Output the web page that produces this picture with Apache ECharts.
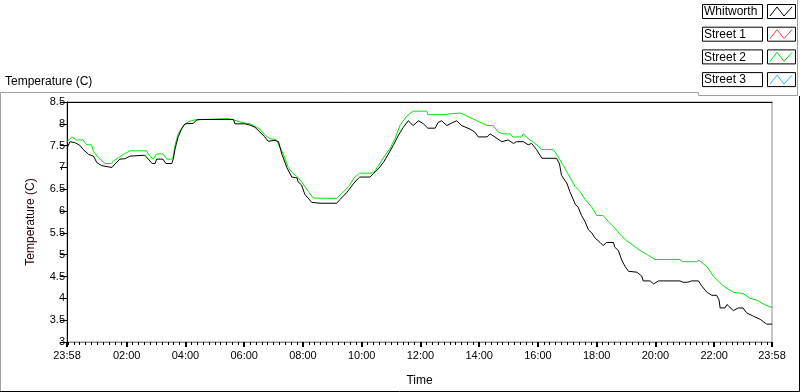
<!DOCTYPE html>
<html>
<head>
<meta charset="utf-8">
<script src="https://cdn.jsdelivr.net/npm/echarts@6/dist/echarts.min.js"></script>
<style>
  html, body { margin: 0; padding: 0; background: #fff; }
  #chart { width: 800px; height: 392px; }
</style>
</head>
<body>
<div id="chart"></div>
<script>
// minutes since 23:58 on the x axis
var majorTicks = [0, 122, 242, 362, 482, 602, 722, 842, 962, 1082, 1202, 1322, 1440];
var tickLabels = ["23:58", "02:00", "04:00", "06:00", "08:00", "10:00", "12:00",
                  "14:00", "16:00", "18:00", "20:00", "22:00", "23:58"];

var seriesNames = ["Whitworth", "Street 1", "Street 2", "Street 3"];
var seriesColors = ["#000000", "#ff4040", "#00e600", "#33b5ff"];

var whitworthTime = [0, 6, 16, 27, 33, 44, 54, 61, 71, 74, 92, 98, 108, 118, 129, 132, 159, 163, 166, 174,
  180, 183, 196, 202, 214, 217, 221, 227, 234, 241, 258, 265, 272, 340, 343, 364, 374, 384, 394, 404,
  411, 425, 432, 439, 449, 459, 470, 472, 479, 486, 500, 517, 551, 558, 571, 588, 598, 619, 626, 636,
  646, 656, 667, 677, 687, 697, 707, 718, 728, 737, 752, 758, 765, 776, 786, 796, 806, 823, 833, 840,
  858, 864, 874, 888, 901, 912, 918, 932, 942, 949, 959, 970, 1000, 1006, 1010, 1021, 1027, 1038, 1044, 1051,
  1058, 1065, 1072, 1078, 1089, 1095, 1102, 1116, 1119, 1126, 1133, 1140, 1147, 1164, 1174, 1177, 1191, 1198, 1208, 1252,
  1258, 1268, 1276, 1290, 1296, 1307, 1317, 1327, 1332, 1334, 1344, 1348, 1361, 1371, 1381, 1388, 1402, 1416, 1429, 1440];
var whitworthTemp = [7.44, 7.59, 7.57, 7.50, 7.41, 7.30, 7.26, 7.11, 7.04, 7.00, 7.00, 7.08, 7.19, 7.20, 7.26, 7.28, 7.28, 7.24, 7.19, 7.09,
  7.09, 7.19, 7.19, 7.09, 7.09, 7.19, 7.44, 7.70, 7.88, 8.00, 8.01, 8.09, 8.10, 8.10, 8.00, 8.00, 7.97, 7.92, 7.81, 7.70,
  7.60, 7.62, 7.59, 7.30, 7.00, 6.78, 6.76, 6.67, 6.60, 6.38, 6.20, 6.18, 6.18, 6.27, 6.42, 6.67, 6.78, 6.78, 6.86, 6.97,
  7.11, 7.30, 7.52, 7.74, 7.92, 8.07, 7.96, 8.07, 8.00, 7.90, 7.90, 8.03, 8.07, 7.96, 8.02, 8.07, 7.96, 7.88, 7.81, 7.70,
  7.70, 7.77, 7.70, 7.59, 7.63, 7.55, 7.59, 7.59, 7.52, 7.55, 7.41, 7.21, 7.21, 7.08, 6.82, 6.64, 6.45, 6.16, 6.09, 5.90,
  5.76, 5.57, 5.50, 5.39, 5.28, 5.21, 5.28, 5.28, 5.17, 5.10, 4.88, 4.73, 4.62, 4.60, 4.51, 4.40, 4.40, 4.33, 4.40, 4.40,
  4.37, 4.37, 4.40, 4.40, 4.29, 4.14, 4.07, 4.07, 3.96, 3.78, 3.78, 3.86, 3.72, 3.78, 3.78, 3.67, 3.59, 3.52, 3.41, 3.41];

var street2Time = [0, 10, 20, 33, 40, 50, 54, 64, 78, 91, 95, 105, 115, 129, 163, 166, 176, 183, 196, 204,
  214, 217, 221, 227, 238, 249, 261, 329, 340, 357, 374, 394, 404, 415, 428, 432, 442, 452, 462, 469,
  479, 493, 503, 551, 561, 575, 588, 598, 626, 636, 646, 660, 670, 680, 694, 707, 735, 737, 768, 803,
  817, 837, 858, 870, 881, 891, 905, 911, 929, 932, 942, 956, 970, 993, 1000, 1014, 1027, 1038, 1048, 1058,
  1072, 1082, 1095, 1106, 1119, 1130, 1143, 1157, 1170, 1187, 1201, 1252, 1256, 1286, 1291, 1307, 1320, 1340, 1361, 1381,
  1395, 1409, 1426, 1440];
var street2Temp = [7.59, 7.70, 7.63, 7.63, 7.52, 7.52, 7.37, 7.22, 7.09, 7.09, 7.15, 7.22, 7.30, 7.38, 7.38, 7.30, 7.19, 7.31, 7.31, 7.19,
  7.19, 7.26, 7.52, 7.77, 7.97, 8.05, 8.09, 8.12, 8.09, 8.03, 8.00, 7.88, 7.74, 7.66, 7.63, 7.60, 7.30, 7.00, 6.86, 6.80,
  6.67, 6.45, 6.30, 6.29, 6.40, 6.56, 6.78, 6.87, 6.87, 7.04, 7.22, 7.44, 7.66, 7.96, 8.18, 8.29, 8.29, 8.21, 8.21, 8.25,
  8.18, 8.07, 7.96, 7.96, 7.81, 7.77, 7.77, 7.70, 7.70, 7.77, 7.66, 7.55, 7.41, 7.41, 7.30, 7.04, 6.78, 6.56, 6.45, 6.27,
  6.09, 5.90, 5.90, 5.76, 5.61, 5.46, 5.32, 5.21, 5.10, 4.99, 4.89, 4.89, 4.84, 4.84, 4.87, 4.73, 4.51, 4.29, 4.14, 4.11,
  4.00, 3.96, 3.85, 3.79];

function pairs(t, v) {
  return t.map(function (x, i) { return [x, v[i]]; });
}
var seriesData = [pairs(whitworthTime, whitworthTemp), [], pairs(street2Time, street2Temp), []];

var minorTicks = [];
for (var m = 2; m < 1440; m += 12) {
  if (majorTicks.indexOf(m) < 0) minorTicks.push(m);
}

var font = "Liberation Sans";

// LabVIEW style legend boxes at the top right
var legendItems = [];
seriesNames.forEach(function (name, i) {
  var y = 4 + i * 22.7;
  legendItems.push({
    type: "rect", shape: { x: 702.5, y: y + 0.5, width: 60, height: 14 },
    style: { fill: "#fff", stroke: "#000", lineWidth: 1 }
  });
  legendItems.push({
    type: "text", x: 704, y: y + 8,
    style: { text: name, font: "12px " + font, fill: "#000", verticalAlign: "middle" }
  });
  legendItems.push({
    type: "rect", shape: { x: 767.5, y: y + 0.5, width: 28, height: 14 },
    style: { fill: "#fff", stroke: "#000", lineWidth: 1 }
  });
  legendItems.push({
    type: "polyline",
    shape: { points: [[770, y + 12], [777, y + 3], [784, y + 12], [792, y + 3]] },
    style: { stroke: seriesColors[i], lineWidth: 1, fill: null }
  });
});

var myChart = echarts.init(document.getElementById("chart"));

var option = {
  animation: false,
  backgroundColor: "#fff",
  textStyle: { fontFamily: font },
  grid: {
    left: 67, top: 102, right: 28, bottom: 39,
    show: true, borderColor: "#8c8c8c", borderWidth: 1, backgroundColor: "#fff"
  },
  graphic: [
    // outer frame
    { type: "polyline", shape: { points: [[0.5, 391], [0.5, 92.5], [698.5, 92.5], [698.5, 95.5], [797.5, 95.5], [797.5, 0]] },
      style: { stroke: "#a0a0a0", lineWidth: 1, fill: null } },
    { type: "polyline", shape: { points: [[0, 391.5], [799.5, 391.5], [799.5, 96]] },
      style: { stroke: "#000", lineWidth: 1, fill: null } },
    { type: "text", x: 5, y: 82,
      style: { text: "Temperature (C)", font: "12px " + font, fill: "#000", verticalAlign: "middle" } }
  ].concat(legendItems),
  xAxis: [
    {
      type: "value", min: 0, max: 1440, position: "bottom",
      name: "Time", nameLocation: "middle", nameGap: 33,
      nameTextStyle: { color: "#000", fontSize: 12 },
      axisLine: { onZero: false, lineStyle: { color: "#8c8c8c" } },
      axisTick: { customValues: majorTicks, length: 5, lineStyle: { color: "#000", width: 2 } },
      axisLabel: {
        customValues: majorTicks, color: "#000", fontSize: 11, margin: 8,
        formatter: function (val) {
          var i = majorTicks.indexOf(Math.round(val));
          return i >= 0 ? tickLabels[i] : "";
        }
      },
      splitLine: { show: false }
    },
    {
      type: "value", min: 0, max: 1440, position: "bottom",
      axisLine: { show: false, onZero: false },
      axisTick: { customValues: minorTicks, length: 3, lineStyle: { color: "#000" } },
      axisLabel: { show: false },
      splitLine: { show: false }
    },
    {
      type: "value", min: 0, max: 1440, position: "top",
      axisLine: { show: true, onZero: false, lineStyle: { color: "#000" } },
      axisTick: { show: false }, axisLabel: { show: false }, splitLine: { show: false }
    }
  ],
  yAxis: [
    {
      type: "value", min: 3, max: 8.5, interval: 0.5, position: "left",
      name: "Temperature (C)", nameLocation: "middle", nameGap: 30,
      nameTextStyle: { color: "#200000", fontSize: 12 },
      axisLine: { show: true, onZero: false, lineStyle: { color: "#000" } },
      axisTick: { show: true, length: 7, lineStyle: { color: "#000" } },
      axisLabel: { color: "#000", fontSize: 11, margin: 2 },
      splitLine: { show: false }
    }
  ],
  series: seriesNames.map(function (name, i) {
    return {
      name: name, type: "line", xAxisIndex: 0, yAxisIndex: 0,
      data: seriesData[i], showSymbol: false, z: i === 0 ? 4 : 2,
      lineStyle: { color: seriesColors[i], width: 1 },
      itemStyle: { color: seriesColors[i] }
    };
  })
};

myChart.setOption(option);
window.addEventListener("resize", function () {
  myChart.resize();
});
</script>
</body>
</html>
